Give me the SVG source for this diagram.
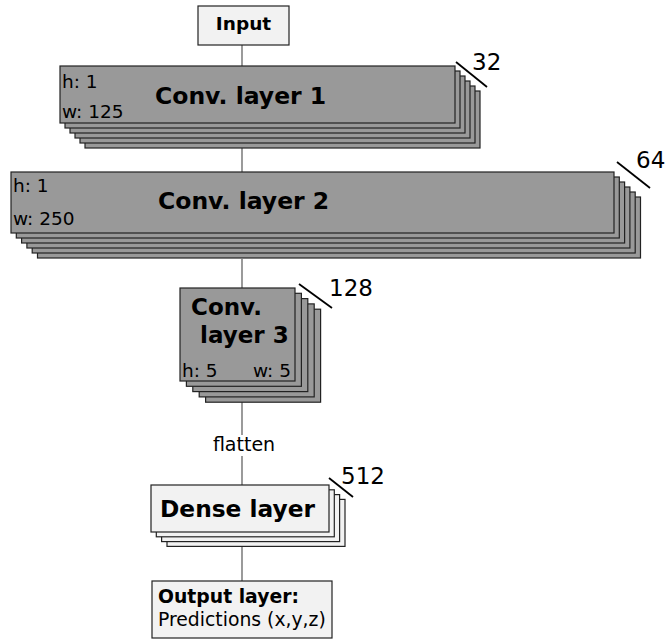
<svg xmlns="http://www.w3.org/2000/svg" width="665" height="641" viewBox="0 0 665 641">
<style>
.conv{fill:#999999;stroke:#222222;stroke-width:1.2}
.light{fill:#f2f2f2;stroke:#222222;stroke-width:1.2}
.t{font-family:"DejaVu Sans",sans-serif;fill:#000}
.b{font-weight:bold}
.s{font-size:18.5px}
.n{font-size:23px}
.h{font-size:23.5px;font-weight:bold}
.edge{stroke:#707070;stroke-width:1.4;fill:none}
.slash{stroke:#000;stroke-width:1.8}
</style>
<rect width="665" height="641" fill="#ffffff"/>
<g id="connectors">
<line class="edge" x1="242" y1="45" x2="242" y2="66"/>
<line class="edge" x1="242" y1="148" x2="242" y2="172"/>
<line class="edge" x1="242" y1="259" x2="242" y2="288"/>
<line class="edge" x1="242" y1="402" x2="242" y2="435"/>
<line class="edge" x1="242" y1="456" x2="242" y2="485"/>
<text class="t" font-size="19px" x="244" y="451" text-anchor="middle">flatten</text>
<line class="edge" x1="242" y1="546" x2="242" y2="581"/>
</g>
<g id="input">
<rect class="light" x="198" y="6" width="91" height="39"/>
<text class="t b" font-size="18.5" x="243.5" y="30" text-anchor="middle">Input</text>
</g>
<g id="conv1">
<rect class="conv" x="85" y="91" width="395" height="57"/>
<rect class="conv" x="80" y="86" width="395" height="57"/>
<rect class="conv" x="75" y="81" width="395" height="57"/>
<rect class="conv" x="70" y="76" width="395" height="57"/>
<rect class="conv" x="65" y="71" width="395" height="57"/>
<rect class="conv" x="60" y="66" width="395" height="57"/>
<text class="t s" x="62" y="88">h: 1</text>
<text class="t s" x="62" y="118">w: 125</text>
<text class="t h" x="155" y="104">Conv. layer 1</text>
<line class="slash" x1="456" y1="62" x2="487" y2="87"/>
<text class="t n" x="472" y="70">32</text>
</g>
<g id="conv2">
<rect class="conv" x="37.5" y="197" width="603" height="61"/>
<rect class="conv" x="32.2" y="192" width="603" height="61"/>
<rect class="conv" x="26.9" y="187" width="603" height="61"/>
<rect class="conv" x="21.6" y="182" width="603" height="61"/>
<rect class="conv" x="16.3" y="177" width="603" height="61"/>
<rect class="conv" x="11" y="172" width="603" height="61"/>
<text class="t s" x="13" y="192">h: 1</text>
<text class="t s" x="13" y="225">w: 250</text>
<text class="t h" x="158" y="209">Conv. layer 2</text>
<line class="slash" x1="617" y1="162" x2="650" y2="188"/>
<text class="t n" x="636" y="168">64</text>
</g>
<g id="conv3">
<rect class="conv" x="205.6" y="309.2" width="115" height="93"/>
<rect class="conv" x="199.2" y="303.9" width="115" height="93"/>
<rect class="conv" x="192.8" y="298.6" width="115" height="93"/>
<rect class="conv" x="186.4" y="293.3" width="115" height="93"/>
<rect class="conv" x="180" y="288" width="115" height="93"/>
<text class="t b" font-size="23" x="191" y="315">Conv.</text>
<text class="t b" font-size="23" x="200" y="343">layer 3</text>
<text class="t s" x="182" y="377">h: 5</text>
<text class="t s" x="291" y="377" text-anchor="end">w: 5</text>
<line class="slash" x1="299" y1="284" x2="332" y2="308"/>
<text class="t n" x="329" y="296">128</text>
</g>
<g id="dense">
<rect class="light" x="167" y="499.4" width="178" height="47"/>
<rect class="light" x="161.6" y="494.6" width="178" height="47"/>
<rect class="light" x="156.3" y="489.8" width="178" height="47"/>
<rect class="light" x="151" y="485" width="178" height="47"/>
<text class="t b" font-size="23.3" x="160" y="517">Dense layer</text>
<line class="slash" x1="329" y1="478" x2="353" y2="497"/>
<text class="t n" x="341" y="484">512</text>
</g>
<g id="output">
<rect class="light" x="152" y="581" width="180" height="57"/>
<text class="t b" font-size="18.8" x="158" y="603">Output layer:</text>
<text class="t" font-size="18.8" x="158" y="626">Predictions (x,y,z)</text>
</g>
</svg>
